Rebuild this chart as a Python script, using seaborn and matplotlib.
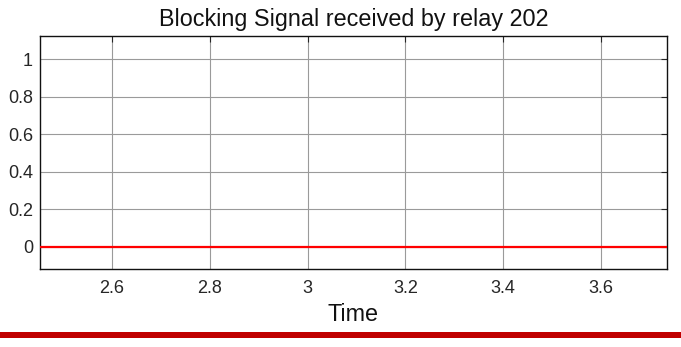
import matplotlib
matplotlib.use("Agg")
import matplotlib.pyplot as plt
import seaborn as sns
import pandas as pd
from matplotlib.patches import Rectangle

# Blocking signal samples for relay 202
time = [2.40, 2.60, 2.80, 3.00, 3.20, 3.40, 3.60, 3.80]
signal = [0, 0, 0, 0, 0, 0, 0, 0]
xticks = [2.6, 2.8, 3.0, 3.2, 3.4, 3.6]
xtick_labels = ["2.6", "2.8", "3", "3.2", "3.4", "3.6"]
yticks = [0, 0.2, 0.4, 0.6, 0.8, 1]
ytick_labels = ["0", "0.2", "0.4", "0.6", "0.8", "1"]

sns.set_style("white")
plt.rcParams["font.family"] = ["Liberation Sans", "DejaVu Sans"]

df = pd.DataFrame({"Time": time, "Signal": signal})

fig = plt.figure(figsize=(6.81, 3.47), dpi=100)
ax = fig.add_axes([40 / 681, 78 / 347, 627 / 681, 233 / 347])

sns.lineplot(data=df, x="Time", y="Signal", ax=ax, color="#ff0000", linewidth=1.6, zorder=3)

ax.set_xlim(2.4525, 3.735)
ax.set_ylim(-0.118, 1.123)
ax.set_xticks(xticks)
ax.set_xticklabels(xtick_labels)
ax.set_yticks(yticks)
ax.set_yticklabels(ytick_labels)
ax.grid(True, color="#9a9a9a", linewidth=0.8)
ax.set_axisbelow(True)
ax.tick_params(direction="in", length=4, width=0.8, colors="#262626", labelsize=13,
               top=True, right=True, pad=5)
ax.tick_params(axis="x", pad=8)
for s in ax.spines.values():
    s.set_visible(True)
    s.set_color("#111111")
    s.set_linewidth(1.0)

ax.set_xlabel("Time", fontsize=16.8, labelpad=4, color="#111111")
ax.set_ylabel("")
ax.set_title("Blocking Signal received by relay 202", fontsize=16.8, pad=7.5, color="#111111")

# dark red rule along the bottom of the figure
fig.add_artist(Rectangle((0, (347 - 337.5) / 347), 1, 6 / 347, transform=fig.transFigure,
                         facecolor="#c00000", edgecolor="none"))

fig.savefig("out.png", dpi=100, facecolor="white")
